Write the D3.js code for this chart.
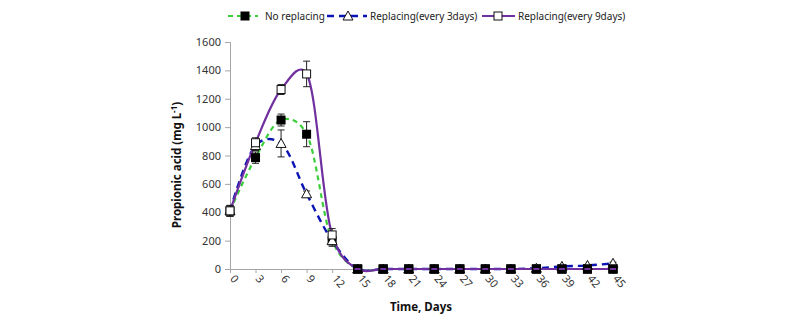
<!DOCTYPE html>
<html><head><meta charset="utf-8">
<script src="https://cdn.jsdelivr.net/npm/d3@7"></script>
<style>body{margin:0;background:#fff}svg{display:block}text{font-family:"Noto Sans","Liberation Sans",sans-serif}</style>
</head><body><svg id="c" width="800" height="324"></svg>
<script>
const days = [0,3,6,9,12,15,18,21,24,27,30,33,36,39,42,45];
const noReplacing   = [410,785,1050,950,200,0,0,0,0,0,0,0,0,0,0,0];
const noReplErr     = [38,40,42,88,40,0,0,0,0,0,0,0,0,0,0,0];
const replacing3    = [410,870,885,530,200,0,0,0,0,0,0,0,5,18,25,40];
const repl3Err      = [38,35,95,20,30,0,0,0,0,0,0,0,0,6,6,8];
const replacing9    = [410,890,1265,1375,240,0,0,0,0,0,0,0,0,0,0,0];
const repl9Err      = [38,35,35,90,45,0,0,0,0,0,0,0,0,0,0,0];
const yTicks = [0,200,400,600,800,1000,1200,1400,1600];
const seriesNames = ["No replacing","Replacing(every 3days)","Replacing(every 9days)"];

const svg = d3.select("#c");
const x = d3.scaleLinear().domain([0,45]).range([230,613]);
const y = d3.scaleLinear().domain([0,1600]).range([269,42]);
const font = '"Noto Sans","Liberation Sans",sans-serif';

// axes
const yAxis = d3.axisLeft(y).tickValues(yTicks).tickFormat(d3.format("d")).tickSize(5).tickPadding(4);
const gy = svg.append("g").attr("transform","translate(230,0)").call(yAxis);
gy.select(".domain").attr("stroke","#a6a6a6");
gy.selectAll(".tick line").attr("stroke","#a6a6a6");
gy.selectAll("text").attr("font-size",11).attr("fill","#333").attr("font-family",font);

const xAxis = d3.axisBottom(x).tickValues(days).tickSize(4).tickSizeOuter(0);
const gx = svg.append("g").attr("transform","translate(0,269)").call(xAxis);
gx.select(".domain").attr("stroke","#a6a6a6");
gx.selectAll(".tick line").attr("stroke","#a6a6a6");
gx.selectAll("text").attr("font-size",11).attr("fill","#333").attr("font-family",font)
  .attr("text-anchor","start").attr("dy",0).attr("y",0)
  .attr("transform","translate(-1,10) rotate(50)");

// titles
const yt = svg.append("text").attr("transform","translate(181,165) rotate(-90)")
  .attr("text-anchor","middle").attr("font-size",11.5).attr("font-weight","bold").attr("fill","#111");
yt.append("tspan").text("Propionic acid (mg L");
yt.append("tspan").attr("dy",-4).attr("font-size",8).text("-1");
yt.append("tspan").attr("dy",4).text(")");
svg.append("text").attr("x",421).attr("y",311).attr("text-anchor","middle")
  .attr("font-size",11.5).attr("font-weight","bold").attr("fill","#111").text("Time, Days");

const line = d3.line().x((d,i)=>x(days[i])).y(d=>y(d)).curve(d3.curveCatmullRom.alpha(0.2));

const series = [
  {vals:noReplacing, err:noReplErr, color:"#3ccf3c", dash:"5,4", w:2.2, marker:"fsquare"},
  {vals:replacing3, err:repl3Err, color:"#0a14b4", dash:"7,5", w:2.4, marker:"triangle"},
  {vals:replacing9, err:repl9Err, color:"#7030a0", dash:null, w:2.2, marker:"osquare"}
];

series.forEach(s=>{
  svg.append("path").datum(s.vals).attr("d",line).attr("fill","none")
    .attr("stroke",s.color).attr("stroke-width",s.w).attr("stroke-dasharray",s.dash);
});

function drawMarker(g, type, cx, cy){
  if(type==="fsquare") g.append("rect").attr("x",cx-4.5).attr("y",cy-4.5).attr("width",9).attr("height",9).attr("fill","#000");
  else if(type==="osquare") g.append("rect").attr("x",cx-4).attr("y",cy-4).attr("width",8).attr("height",8).attr("fill","#fff").attr("stroke","#111").attr("stroke-width",1);
  else g.append("path").attr("d",`M${cx},${cy-5}L${cx+5},${cy+4}L${cx-5},${cy+4}Z`).attr("fill","#fff").attr("stroke","#111").attr("stroke-width",1);
}

series.forEach(s=>{
  const g = svg.append("g");
  s.vals.forEach((v,i)=>{
    const e = s.err[i];
    if(e>0){
      const cx = x(days[i]);
      g.append("line").attr("x1",cx).attr("x2",cx).attr("y1",y(v-e)).attr("y2",y(v+e)).attr("stroke","#222").attr("stroke-width",1);
      [v-e,v+e].forEach(t=>g.append("line").attr("x1",cx-3.5).attr("x2",cx+3.5).attr("y1",y(t)).attr("y2",y(t)).attr("stroke","#222").attr("stroke-width",1));
    }
  });
});
series.forEach(s=>{
  const g = svg.append("g");
  s.vals.forEach((v,i)=>drawMarker(g,s.marker,x(days[i]),y(v)));
});
{
  const g = svg.append("g");
  noReplacing.forEach((v,i)=>{ if(days[i]>=15){ drawMarker(g,"fsquare",x(days[i]),y(v)); } });
  replacing9.forEach((v,i)=>{ if(days[i]>=15){ const cx=x(days[i]); g.append("line").attr("x1",cx-3).attr("x2",cx+3).attr("y1",y(v)).attr("y2",y(v)).attr("stroke","#7030a0").attr("stroke-width",2);} });
}

// legend
const leg = [
  {x1:228,x2:258,mx:245,tx:265,s:series[0]},
  {x1:327,x2:367,mx:348,tx:370,s:series[1]},
  {x1:482,x2:515,mx:498,tx:518,s:series[2]}
];
leg.forEach((l,i)=>{
  const g = svg.append("g");
  g.append("line").attr("x1",l.x1).attr("x2",l.x2).attr("y1",16).attr("y2",16)
    .attr("stroke",l.s.color).attr("stroke-width",l.s.w).attr("stroke-dasharray",l.s.dash);
  drawMarker(g,l.s.marker,l.mx,16);
  g.append("text").attr("x",l.tx).attr("y",20).attr("font-size",10).attr("fill","#222").text(seriesNames[i]);
});
</script></body></html>
